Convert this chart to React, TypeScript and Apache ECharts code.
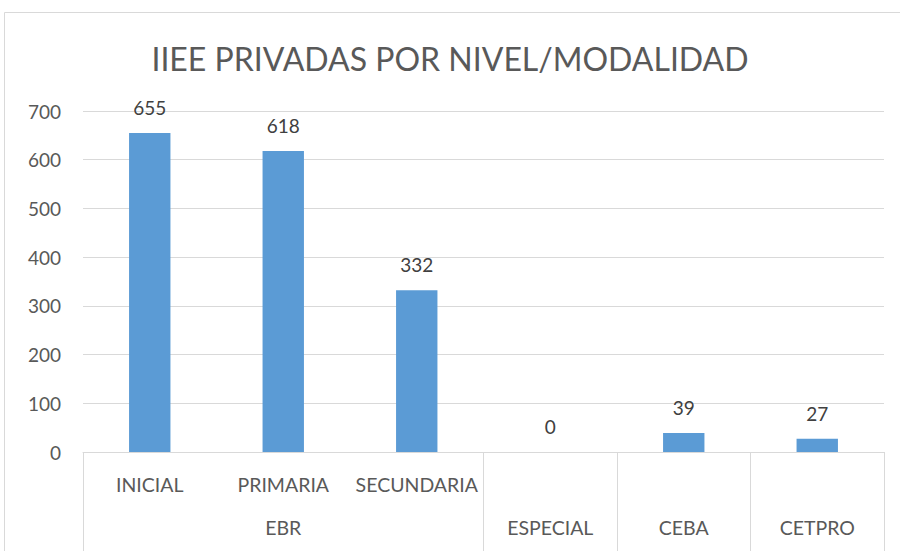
import React, { useEffect, useRef } from "react";
import * as echarts from "echarts";

const categories = ["INICIAL", "PRIMARIA", "SECUNDARIA", "ESPECIAL", "CEBA", "CETPRO"];
const levelLabels = ["INICIAL", "PRIMARIA", "SECUNDARIA", "", "", ""];
const groupLabels = ["", "EBR", "", "ESPECIAL", "CEBA", "CETPRO"];
const groupBoundaries = [0, 3, 4, 5];
const values = [655, 618, 332, 0, 39, 27];
const yTicks = { min: 0, max: 700, interval: 100 };
const title = "IIEE PRIVADAS POR NIVEL/MODALIDAD";

const FONT = "Lato";
const TEXT = "#595959";
const LINE = "#D9D9D9";

export default function App() {
  const ref = useRef<HTMLDivElement>(null);
  useEffect(() => {
    const chart = echarts.init(ref.current!, null, { renderer: "svg" });
    chart.setOption({
      animation: false,
      textStyle: { fontFamily: FONT },
      title: {
        text: title,
        left: "center",
        top: 37,
        textStyle: { fontFamily: FONT, fontSize: 32, fontWeight: "normal", color: TEXT },
      },
      graphic: [
        {
          type: "rect",
          shape: { x: 4.5, y: 12.5, width: 900, height: 560 },
          style: { fill: "none", stroke: LINE, lineWidth: 1 },
          silent: true,
        },
      ],
      grid: { left: 83, right: 16, top: 111, bottom: 99 },
      xAxis: [
        {
          type: "category",
          data: categories,
          axisLine: { show: true, lineStyle: { color: LINE } },
          axisTick: { show: false },
          axisLabel: {
            color: TEXT,
            fontSize: 19.5,
            margin: 22,
            interval: 0,
            formatter: (_v: string, i: number) => levelLabels[i],
          },
        },
        {
          type: "category",
          data: groupLabels,
          position: "bottom",
          axisLine: { show: false },
          axisTick: {
            show: true,
            length: 110,
            interval: (i: number) => groupBoundaries.includes(i),
            lineStyle: { color: LINE },
          },
          axisLabel: { color: TEXT, fontSize: 19.5, margin: 65, interval: 0 },
        },
      ],
      yAxis: {
        type: "value",
        min: yTicks.min,
        max: yTicks.max,
        interval: yTicks.interval,
        axisLine: { show: false },
        axisTick: { show: false },
        axisLabel: { color: TEXT, fontSize: 19, margin: 22 },
        splitLine: { lineStyle: { color: LINE } },
      },
      series: [
        {
          type: "bar",
          data: values,
          xAxisIndex: 0,
          barWidth: "31%",
          itemStyle: { color: "#5B9BD5" },
          label: { show: true, position: "top", distance: 16, color: "#404040", fontSize: 19 },
        },
      ],
    });
    return () => chart.dispose();
  }, []);
  return (
    <div
      ref={ref}
      style={{ position: "absolute", left: 0, top: 0, width: 900, height: 551, background: "#fff" }}
    />
  );
}
